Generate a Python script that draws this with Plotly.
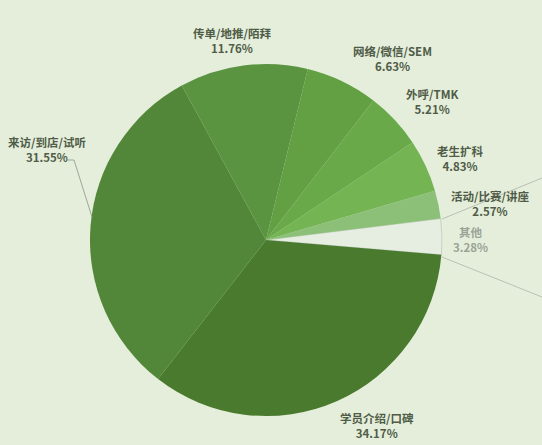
import plotly.graph_objects as go

# 招生渠道占比
channels = ["其他", "活动/比赛/讲座", "老生扩科", "外呼/TMK", "网络/微信/SEM",
            "传单/地推/陌拜", "来访/到店/试听", "学员介绍/口碑"]
shares = [3.28, 2.57, 4.83, 5.21, 6.63, 11.76, 31.55, 34.17]

colors = ["#e6ede1", "#8cc078", "#74b453", "#69a94a", "#62a043",
          "#5a9441", "#528739", "#4a7a2e"]

W, H = 542, 445
BG = "#e5eedb"
# label centres in pixels (x, y of the name line)
label_pos = [(470, 233), (490, 197), (460, 152), (432, 96), (392, 52),
             (232, 35), (47, 143), (377, 419)]
label_col = ["#9aa397"] + ["#4f5c47"] * 7

fig = go.Figure(go.Pie(
    labels=channels,
    values=shares,
    sort=False,
    direction="counterclockwise",
    rotation=83,
    marker=dict(colors=colors, line=dict(color=["#c9d1c6"] + ["rgba(0,0,0,0)"] * 7,
                                         width=[1] + [0] * 7)),
    textinfo="none",
    hoverinfo="label+percent",
    domain=dict(x=[90 / W, 442 / W], y=[1 - 416 / H, 1 - 64 / H]),
    showlegend=False,
))

annotations = []
for name, val, (px, py), col in zip(channels, shares, label_pos, label_col):
    annotations.append(dict(
        x=px / W, y=1 - (py + 6) / H, xref="paper", yref="paper",
        text=f"{name}<br>{val:.2f}%", showarrow=False,
        font=dict(size=11.5, color=col, family="Noto Sans CJK SC", weight=600),
        align="center", xanchor="center", yanchor="middle",
    ))

shapes = [
    # leader line of 来访/到店/试听
    dict(type="line", xref="paper", yref="paper",
         x0=68 / W, y0=1 - 160 / H, x1=74 / W, y1=1 - 160 / H,
         line=dict(color="#8a9486", width=0.8)),
    dict(type="line", xref="paper", yref="paper",
         x0=74 / W, y0=1 - 160 / H, x1=92 / W, y1=1 - 217 / H,
         line=dict(color="#8a9486", width=0.8)),
    # lines around 其他
    dict(type="line", xref="paper", yref="paper",
         x0=442 / W, y0=1 - 219 / H, x1=1, y1=1 - 178 / H,
         line=dict(color="#b8c0b5", width=1)),
    dict(type="line", xref="paper", yref="paper",
         x0=442 / W, y0=1 - 257 / H, x1=1, y1=1 - 297 / H,
         line=dict(color="#b8c0b5", width=1)),
]

fig.update_layout(
    width=W, height=H,
    margin=dict(l=0, r=0, t=0, b=0),
    paper_bgcolor=BG,
    plot_bgcolor=BG,
    annotations=annotations,
    shapes=shapes,
    font=dict(family="Noto Sans CJK SC"),
)

fig.write_html(
    "out.html",
    config={"displayModeBar": False},
    post_script=f"document.body.style.margin='0';document.body.style.background='{BG}';",
)
